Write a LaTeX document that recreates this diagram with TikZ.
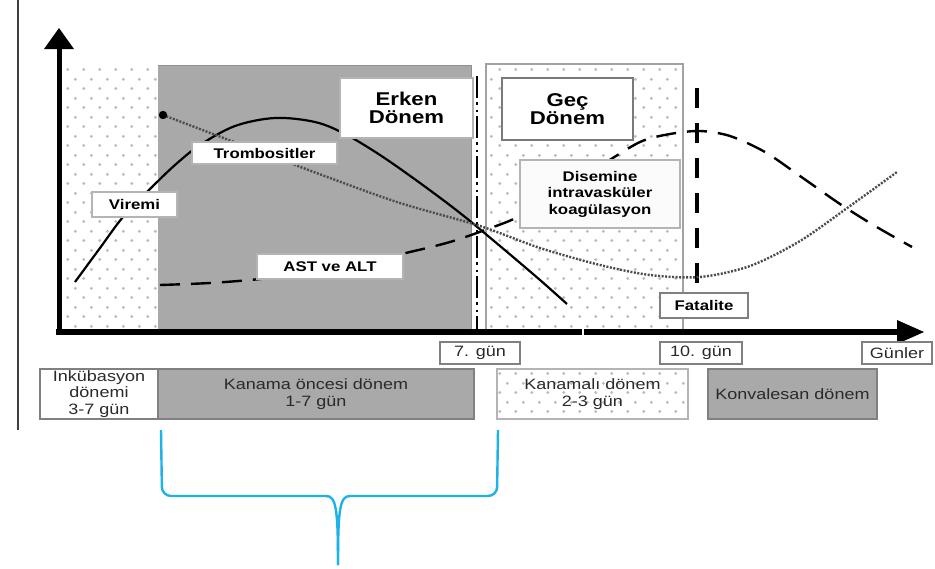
\documentclass[tikz,border=0pt]{standalone}
\usepackage{fontspec}
\setmainfont[FakeStretch=1.2]{Liberation Sans}
\usetikzlibrary{patterns.meta}
\definecolor{midgray}{HTML}{A9A9A9}
\definecolor{boxgray}{HTML}{B4B4B4}
\definecolor{darkbox}{HTML}{7A7A7A}
\definecolor{tlborder}{HTML}{808080}
\definecolor{textgray}{HTML}{2A2A2A}
\definecolor{dotgray}{HTML}{BDBDBD}
\definecolor{bracecol}{HTML}{1FB1E9}
\tikzdeclarepattern{
  name=softdots,
  type=uncolored,
  bounding box={(0pt,0pt) and (16pt,19pt)},
  tile size={(16pt,19pt)},
  code={
    \fill (4pt,4.75pt) circle (1.7pt);
    \fill (12pt,14.25pt) circle (1.7pt);
  }
}
\begin{document}
\begin{tikzpicture}[x=1pt,y=-1pt,
  lbl/.style={draw=boxgray, line width=1.2pt, fill=white, inner sep=0pt, align=center,
    font=\bfseries\fontsize{14}{16.5}\selectfont},
  biglbl/.style={lbl, font=\bfseries\fontsize{18.5}{18.5}\selectfont},
  daylbl/.style={draw=tlborder, line width=1.5pt, fill=white, inner sep=0pt, align=center,
    text=textgray, font=\fontsize{15}{16.5}\selectfont, minimum height=22pt},
  tlbox/.style={draw=tlborder, line width=1.8pt, inner sep=0pt, align=center,
    text=textgray, font=\fontsize{15}{16.5}\selectfont, minimum height=50pt},
  dotted region/.style={pattern=softdots, pattern color=dotgray},
  curveline/.style={line width=2.4pt, line cap=butt},
]
\useasboundingbox (0,0) rectangle (935,568);
\fill[white] (0,0) rectangle (935,568);

% background regions
\fill[dotted region] (62,65) rectangle (158,330);
\fill[midgray] (158,65) rectangle (471,330);
\draw[boxgray!80!black, line width=1pt] (158,65) -- (471,65) -- (471,330);
\fill[dotted region] (486,64) rectangle (683,330);
\draw[boxgray!90!black, line width=1.8pt] (486,330) -- (486,64) -- (683,64) -- (683,330);

% period lines
\draw[line width=2.6pt, dash pattern=on 22pt off 4pt on 2.5pt off 5pt on 2.5pt off 4pt] (477,76) -- (477,330);
\draw[line width=4.5pt, dash pattern=on 20pt off 15pt] (697,88) -- (697,330);

% curves
\draw[curveline, line width=2.2pt] plot[smooth, tension=0.55] coordinates {
  (75,282) (100,248) (123,217) (150,189) (175,165) (200,145) (235,126) (275,118)
  (315,122) (345,134) (380,155) (420,183) (460,213) (500,246) (540,280) (567,304)};
\draw[line width=2.4pt, dash pattern=on 2pt off 1.5pt, draw=black!70] plot[smooth, tension=0.5] coordinates {
  (163,115) (250,148) (330,178) (400,203) (480,226) (540,248) (600,265) (650,275)
  (700,277) (750,266) (800,241) (850,206) (897,172)};
\fill (163,115) circle (4.2pt);
\draw[curveline, dash pattern=on 20pt off 11pt] plot[smooth, tension=0.5] coordinates {
  (160,285) (210,283) (260,279) (310,272) (360,263) (410,252) (450,242) (485,230)
  (520,216) (560,190) (600,166) (640,142) (670,134) (700,131) (730,136) (765,152)
  (800,176) (840,204) (875,226) (912,247)};

% labels on the chart
\node[lbl, minimum width=145pt, minimum height=22pt] (tromb) at (264.5,153) {Trombositler};
\node[lbl, minimum width=85pt, minimum height=25pt] (viremi) at (134.5,204.5) {Viremi};
\node[lbl, minimum width=146pt, minimum height=25pt] (ast) at (330,266.5) {AST ve ALT};
\node[biglbl, minimum width=133pt, minimum height=60pt] (erken) at (406.5,108) {Erken\\Dönem};
\node[biglbl, draw=darkbox, line width=1.8pt, minimum width=131pt, minimum height=62pt] (gec) at (567.5,109) {Geç\\Dönem};
\node[lbl, fill=white!97!gray, minimum width=160pt, minimum height=68pt] (dic) at (600,194) {Disemine\\intravasküler\\koagülasyon};
\node[lbl, draw=tlborder, minimum width=88pt, minimum height=25pt] (fatal) at (704,305.5) {Fatalite};

% axes
\draw[line width=5pt] (59,335) -- (59,46);
\fill (44,49) -- (59,28) -- (74,49) -- cycle;
\draw[line width=5.5pt] (56,332) -- (900,332);
\fill (897,320) -- (924,332) -- (897,344) -- cycle;
\draw[white, line width=2pt] (583,328) -- (583,336);

% day markers
\node[daylbl, minimum width=80pt] (d7) at (480,353) {7. gün};
\node[daylbl, minimum width=82pt] (d10) at (701,353) {10. gün};
\node[daylbl, minimum width=70pt] (days) at (897,353) {Günler};

% timeline
\node[tlbox, fill=white, minimum width=118pt] (ink) at (99,394) {Inkübasyon\\dönemi\\3-7 gün};
\node[tlbox, fill=midgray, minimum width=316pt] (pre) at (316,394) {Kanama öncesi dönem\\1-7 gün};
\node[tlbox, draw=boxgray, dotted region, minimum width=191pt] (hem) at (592.5,394) {Kanamalı dönem\\2-3 gün};
\node[tlbox, fill=midgray, minimum width=169pt] (conv) at (792.5,394) {Konvalesan dönem};

% left frame line
\draw[line width=1.6pt, black!75] (18,0) -- (18,430);

% brace
\coordinate (bl) at (161,430);
\coordinate (br) at (498,430);
\coordinate (tip) at (338,565);
\draw[bracecol, line width=2.4pt, rounded corners=9pt]
  (bl) -- (162,496) -- (327,496);
\draw[bracecol, line width=2.4pt] (326,496) .. controls (336,496) and (338,508) .. (tip);
\draw[bracecol, line width=2.4pt] (tip) .. controls (338,508) and (340,496) .. (350,496);
\draw[bracecol, line width=2.4pt, rounded corners=9pt]
  (349,496) -- (497,496) -- (br);
\end{tikzpicture}
\end{document}
